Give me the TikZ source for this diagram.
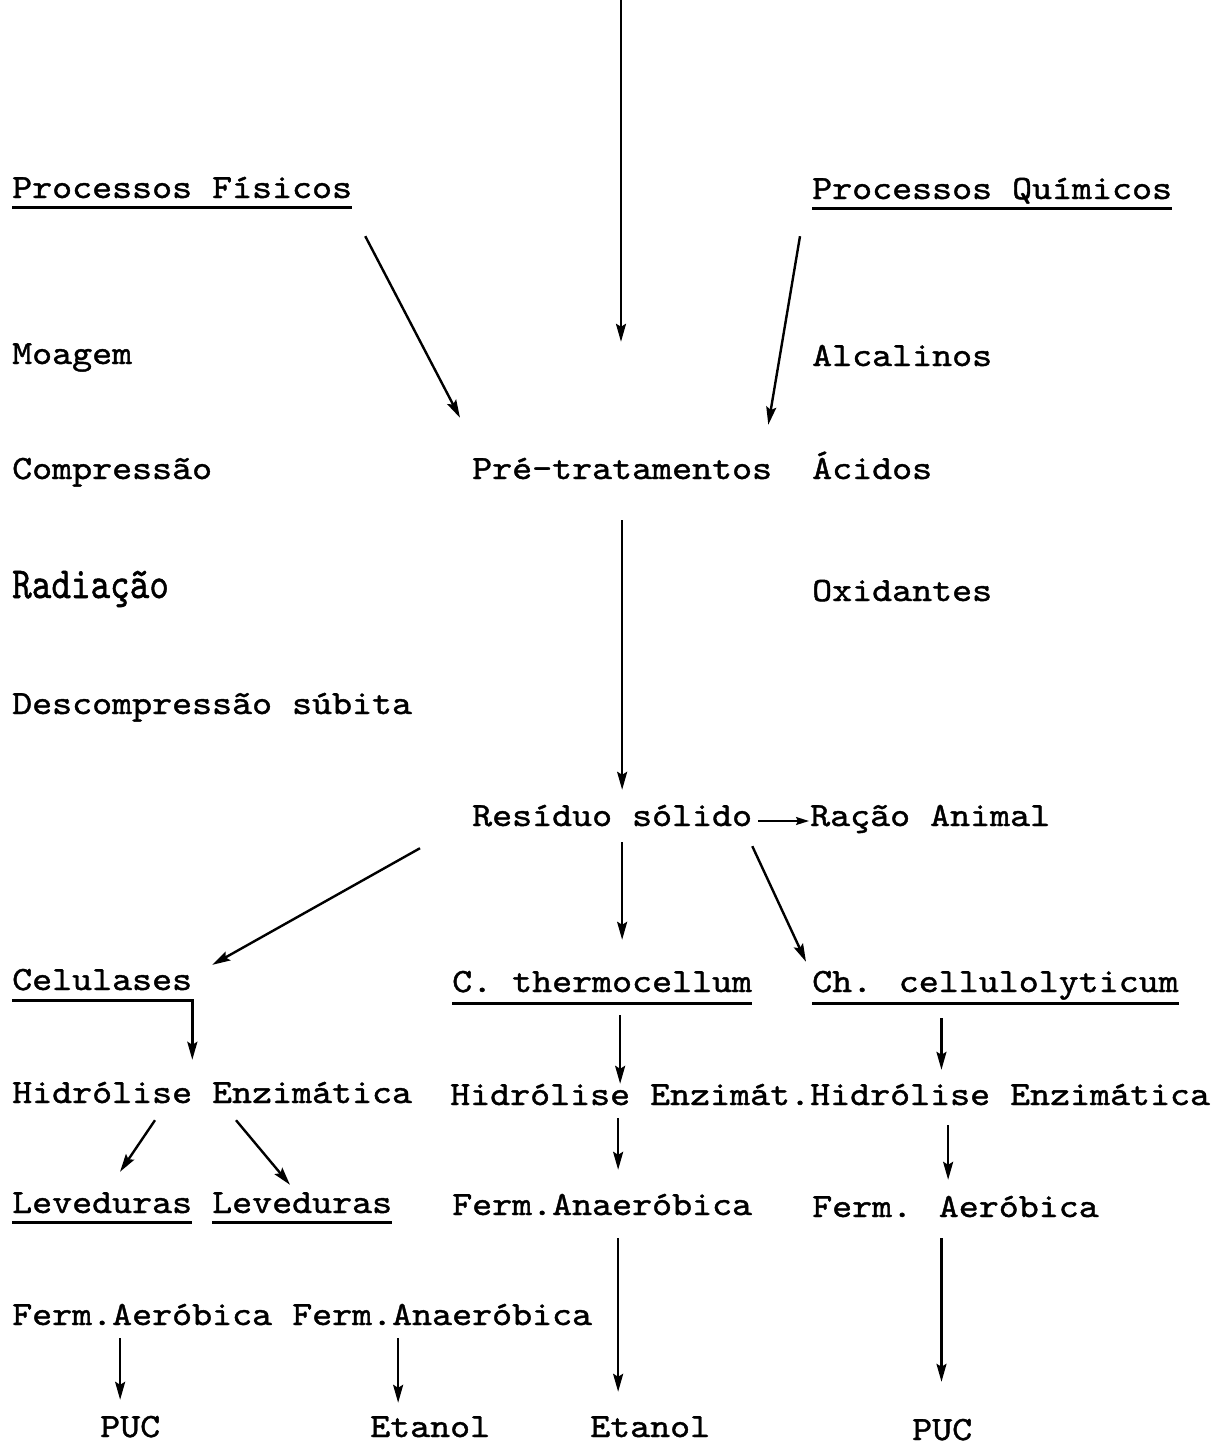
\documentclass[tikz,border=0pt]{standalone}
\usepackage{fontspec}
\usepackage{graphicx}
\usetikzlibrary{arrows.meta,calc}
\newfontfamily\twfam{lmmono10-regular.otf}[FakeStretch=1.12,FakeBold=1.2]
\newcommand\twf{\twfam\fontsize{34}{36}\selectfont}
\begin{document}
\begin{tikzpicture}[x=1pt,y=-1pt,
  lbl/.style={anchor=base west, inner sep=0pt, font=\twf, text height=21pt, text depth=7pt},
  tip/.style={-{Stealth[length=18pt,width=10pt,inset=3pt]}},
  arr/.style={line width=2.4pt, tip},
  ul/.style={line width=2.6pt}]
\path[use as bounding box] (0,0) rectangle (1213,1445);

% nodes
\node[lbl] (pf)   at (12,198)  {Processos Físicos};
\node[lbl] (pq)   at (812,199) {Processos Químicos};
\node[lbl] (moa)  at (12,364)  {Moagem};
\node[lbl] (alc)  at (812,366) {Alcalinos};
\node[lbl] (comp) at (12,479)  {Compressão};
\node[lbl] (pre)  at (472,479) {Pré-tratamentos};
\node[lbl] (aci)  at (812,479) {Ácidos};
\node[lbl] (rad)  at (12,598)  {\scalebox{0.98}[1.3]{Radiação}};
\node[lbl] (oxi)  at (812,601) {Oxidantes};
\node[lbl] (desc) at (12,714)  {Descompressão súbita};
\node[lbl] (res)  at (472,826) {Resíduo sólido};
\node[lbl] (rac)  at (810,826) {Ração Animal};
\node[lbl] (cel)  at (12,990)  {Celulases};
\node[lbl] (cth)  at (452,992) {C. thermocellum};
\node[lbl] (chc)  at (812,992) {Ch. cellulolyticum};
\node[lbl] (hid1) at (12,1103) {Hidrólise Enzimática};
\node[lbl] (hid2) at (450,1105) {Hidrólise Enzimát.};
\node[lbl] (hid3) at (810,1105) {Hidrólise Enzimática};
\node[lbl] (lev1) at (12,1213) {Leveduras};
\node[lbl] (lev2) at (212,1213) {Leveduras};
\node[lbl] (fan)  at (452,1215) {Ferm.Anaeróbica};
\node[lbl] (fae)  at (812,1217) {Ferm. Aeróbica};
\node[lbl] (fae2) at (12,1325) {Ferm.Aeróbica};
\node[lbl] (fan2) at (292,1325) {Ferm.Anaeróbica};
\node[lbl] (puc1) at (100,1437) {PUC};
\node[lbl] (eta1) at (370,1437) {Etanol};
\node[lbl] (eta2) at (590,1437) {Etanol};
\node[lbl] (puc2) at (912,1440) {PUC};

\coordinate (top) at (621,0);

% underlines
\draw[ul] ([yshift=-2pt]pf.south west) -- ([yshift=-2pt]pf.south east);
\draw[ul] ([yshift=-2pt]pq.south west) -- ([yshift=-2pt]pq.south east);
\draw[ul] ([yshift=-4pt]cth.south west) -- ([yshift=-4pt]cth.south east);
\draw[ul] ([yshift=-4pt]chc.south west) -- ([yshift=-4pt]chc.south east);
\draw[ul] ([yshift=-2pt]lev1.south west) -- ([yshift=-2pt]lev1.south east);
\draw[ul] ([yshift=-2pt]lev2.south west) -- ([yshift=-2pt]lev2.south east);
% Celulases underline turning into arrow
\draw[ul, tip, line join=miter]
  ([yshift=-3pt]cel.south west) -- ([yshift=-3pt]cel.south east)
  -- ($(cel.south east |- hid1.north)+(0,-22)$);

% arrows
\draw[arr, shorten >=116pt] (top) -- (top |- pre.north);
\draw[arr] ($(pf.south east)+(13,31)$) -- ($(pre.north west)+(-12,-40)$);
\draw[arr] ($(pq.south west)+(-12,30)$) -- ($(pre.north east)+(-4,-33)$);
\draw[arr, shorten <=34pt, shorten >=15pt] (pre.south) -- (pre.south |- res.north);
\draw[line width=1.8pt, -{Stealth[length=13pt,width=8pt,inset=2pt]}] ($(res.base east)+(6,-5)$) -- ($(rac.base west)+(-1,-5)$);
\draw[arr] ($(res.south west)+(-52,15)$) -- ($(cel.north east)+(20,-4)$);
\draw[arr, shorten <=9pt, shorten >=31pt] ([xshift=10pt]res.south) -- ([xshift=10pt]res.south |- cth.north);
\draw[arr] ($(res.south east)+(0,13)$) -- ($(chc.north west)+(-6,-9)$);
\draw[arr, shorten <=16pt, shorten >=0pt] ([xshift=18pt]cth.south) -- ([xshift=18pt]cth.south |- hid2.north);
\draw[arr, shorten <=19pt, shorten >=14pt] ([xshift=-54pt]chc.south) -- ([xshift=-54pt]chc.south |- hid3.north);
\draw[arr] ($(hid1.south west)+(143,10)$) -- ($(lev1.north west)+(108,-20)$);
\draw[arr] ($(hid1.south west)+(224,10)$) -- ($(lev2.north west)+(78,-7)$);
\draw[arr, shorten <=6pt, shorten >=24pt] ([xshift=-12pt]hid2.south) -- ([xshift=-12pt]hid2.south |- fan.north);
\draw[arr, shorten <=13pt, shorten >=16pt] ([xshift=-62pt]hid3.south) -- ([xshift=-62pt]hid3.south |- fae.north);
\draw[arr, shorten <=16pt, shorten >=24pt] ([xshift=16pt]fan.south) -- ([xshift=16pt]fan.south |- eta2.north);
\draw[arr, shorten <=14pt, shorten >=37pt] ([xshift=-14pt]fae.south) -- ([xshift=-14pt]fae.south |- puc2.north);
\draw[arr, shorten <=6pt, shorten >=16pt] ([xshift=-22pt]fae2.south) -- ([xshift=-22pt]fae2.south |- puc1.north);
\draw[arr, shorten <=6pt, shorten >=13pt] ([xshift=-44pt]fan2.south) -- ([xshift=-44pt]fan2.south |- eta1.north);
\end{tikzpicture}
\end{document}
